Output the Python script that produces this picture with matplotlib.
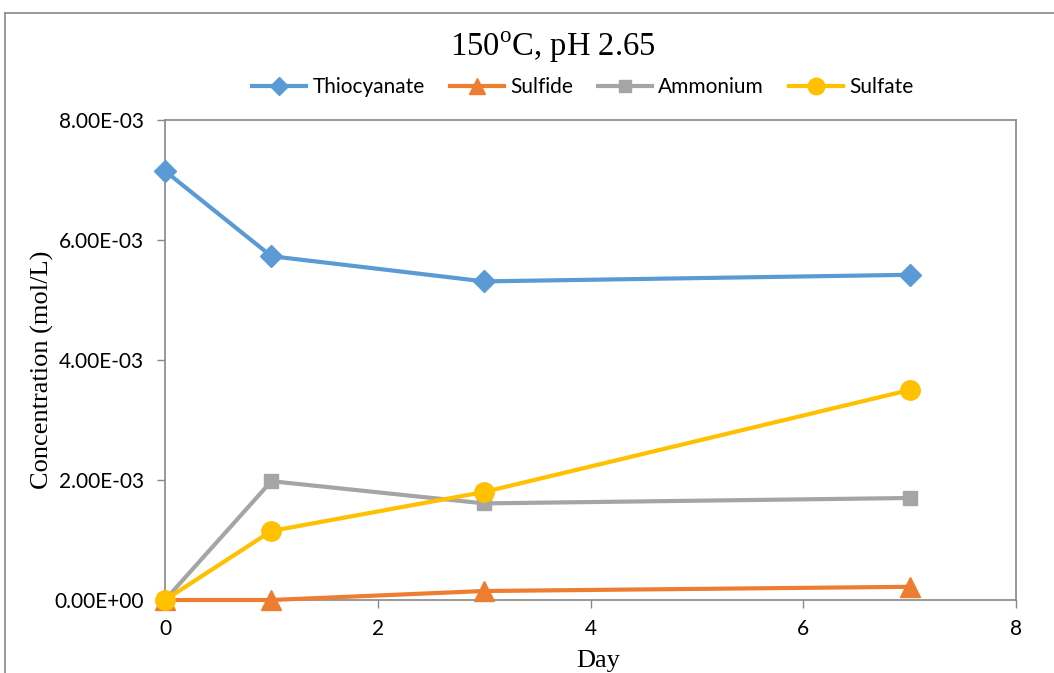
import matplotlib
matplotlib.use("Agg")
import matplotlib.pyplot as plt
from matplotlib import font_manager
from matplotlib.lines import Line2D

days = [0, 1, 3, 7]
thiocyanate = [7.15e-3, 5.73e-3, 5.31e-3, 5.42e-3]
sulfide = [0.0, 0.0, 1.5e-4, 2.2e-4]
ammonium = [0.0, 1.98e-3, 1.61e-3, 1.70e-3]
sulfate = [0.0, 1.15e-3, 1.80e-3, 3.50e-3]

series_names = ["Thiocyanate", "Sulfide", "Ammonium", "Sulfate"]
x_ticks = [0, 2, 4, 6, 8]
y_ticks = [0.0, 2e-3, 4e-3, 6e-3, 8e-3]
y_tick_labels = ["0.00E+00", "2.00E-03", "4.00E-03", "6.00E-03", "8.00E-03"]

installed = {f.name for f in font_manager.fontManager.ttflist}
sans = "Liberation Sans Narrow" if "Liberation Sans Narrow" in installed else "Lato"
serif = "Liberation Serif"

fig = plt.figure(figsize=(10.54, 6.73), dpi=100)
ax = fig.add_axes([165 / 1054, 73 / 673, 851 / 1054, 480 / 673])

styles = [
    dict(color="#5B9BD5", marker="D", markersize=11),
    dict(color="#ED7D31", marker="^", markersize=14),
    dict(color="#A5A5A5", marker="s", markersize=10),
    dict(color="#FFC000", marker="o", markersize=14),
]
data = [thiocyanate, sulfide, ammonium, sulfate]

handles = []
for name, vals, st in zip(series_names, data, styles):
    ax.plot(days, vals, lw=3, clip_on=False, zorder=3, **st)
    handles.append(Line2D([], [], lw=3, color=st["color"], marker=st["marker"],
                          markersize=st["markersize"] * 0.85, label=name))

ax.set_xlim(0, 8)
ax.set_ylim(0, 8e-3)
ax.set_xticks(x_ticks)
ax.set_yticks(y_ticks)
ax.set_yticklabels(y_tick_labels)
for lbl in ax.get_xticklabels() + ax.get_yticklabels():
    lbl.set_fontfamily(sans)
    lbl.set_fontsize(15)
ax.tick_params(direction="out", length=6, width=1, color="#888888")
ax.tick_params(axis="y", pad=9)
ax.tick_params(axis="x", pad=8)
for sp in ax.spines.values():
    sp.set_color("#888888")
    sp.set_linewidth(1.2)

ax.set_xlabel("Day", family=serif, fontsize=19)
ax.xaxis.set_label_coords(0.5 + 8 / 851, -0.105)
ax.xaxis.label.set_va("top")
ax.set_ylabel("Concentration (mol/L)", family=serif, fontsize=19)
ax.yaxis.set_label_coords(-0.131, 0.48)

fig.text(553 / 1054, 1 - 47 / 673, r"150$^{\mathregular{o}}$C, pH 2.65", family=serif,
         fontsize=23.5, ha="center", va="center")

fig.legend(handles=handles, loc="center", bbox_to_anchor=(0.553, 1 - 87 / 673),
           ncol=4, frameon=False, prop={"family": sans, "size": 15},
           handlelength=2.6, columnspacing=1.2, handletextpad=0.3)

# outer chart frame
fig.add_artist(Line2D([4.5 / 1054, 4.5 / 1054], [0, 1 - 13 / 673], color="#888888",
                      lw=1.2, transform=fig.transFigure))
fig.add_artist(Line2D([4.5 / 1054, 1], [1 - 13 / 673, 1 - 13 / 673], color="#888888",
                      lw=1.2, transform=fig.transFigure))

fig.savefig("out.png", dpi=100)
